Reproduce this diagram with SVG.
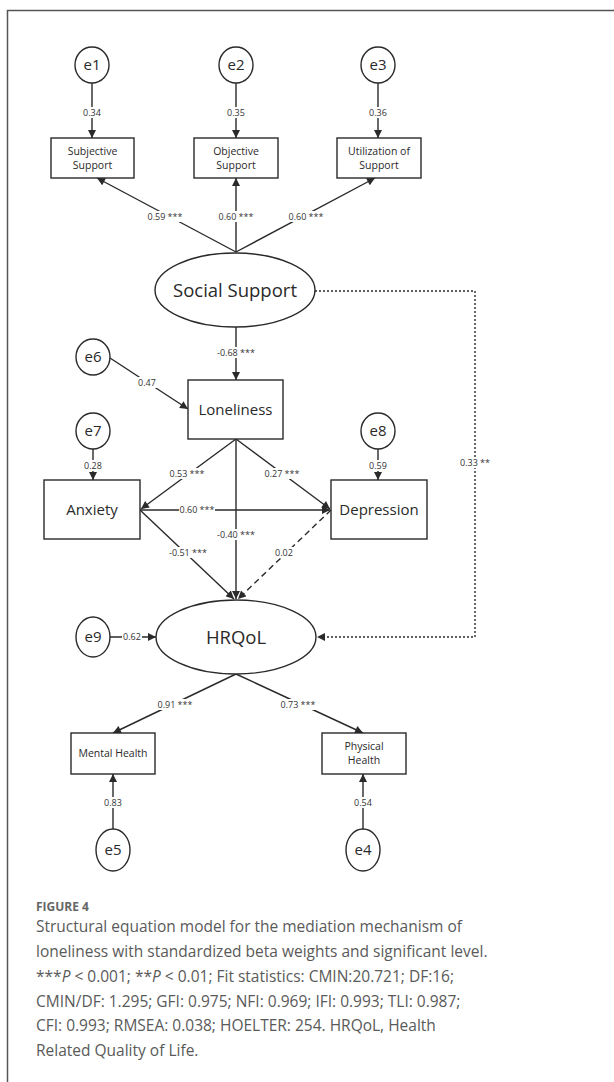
<svg xmlns="http://www.w3.org/2000/svg" width="614" height="1082" viewBox="0 0 614 1082">
<style>
.n{fill:#fff;stroke:#2a2a2a;stroke-width:1.4}
.t{font-family:"Open Sans","Noto Sans",sans-serif;fill:#2a2a2a;text-anchor:middle}
.lbl{font-family:"Open Sans","Noto Sans",sans-serif;font-size:9px;fill:#333;text-anchor:middle}
.bg{fill:#fff}
.c{fill:none;stroke:#2a2a2a;stroke-width:1.4}
.cap{font-family:"Open Sans","Noto Sans",sans-serif;font-size:15.5px;fill:#5a5a5a}
</style>
<defs>
<marker id="ah" viewBox="0 0 10 10" refX="10" refY="5" markerWidth="9" markerHeight="8" markerUnits="userSpaceOnUse" orient="auto">
<path d="M0,0 L10,5 L0,10 z" fill="#2a2a2a"/>
</marker>
</defs>
<rect x="7.5" y="10.5" width="640" height="1100" fill="none" stroke="#555" stroke-width="1.5"/>

<g id="connectors">
<line class="c" x1="92" y1="83" x2="92" y2="138" marker-end="url(#ah)"/>
<line class="c" x1="236" y1="83" x2="236" y2="138" marker-end="url(#ah)"/>
<line class="c" x1="378" y1="83" x2="378" y2="138" marker-end="url(#ah)"/>
<line class="c" x1="236" y1="252" x2="97" y2="178" marker-end="url(#ah)"/>
<line class="c" x1="236" y1="252" x2="236" y2="178" marker-end="url(#ah)"/>
<line class="c" x1="236" y1="252" x2="375" y2="178" marker-end="url(#ah)"/>
<line class="c" x1="236" y1="327" x2="236" y2="380" marker-end="url(#ah)"/>
<line class="c" x1="110" y1="358" x2="188" y2="409" marker-end="url(#ah)"/>
<line class="c" x1="93" y1="449" x2="93" y2="480" marker-end="url(#ah)"/>
<line class="c" x1="378" y1="449" x2="378" y2="480" marker-end="url(#ah)"/>
<line class="c" x1="236" y1="439" x2="141" y2="509" marker-end="url(#ah)"/>
<line class="c" x1="236" y1="439" x2="330" y2="509" marker-end="url(#ah)"/>
<line class="c" x1="140" y1="510" x2="330" y2="510" marker-end="url(#ah)"/>
<line class="c" x1="236" y1="439" x2="236" y2="599" marker-end="url(#ah)"/>
<line class="c" x1="140" y1="510" x2="234" y2="599" marker-end="url(#ah)"/>
<line class="c" x1="331" y1="510" x2="238" y2="599" stroke-dasharray="6,4" marker-end="url(#ah)"/>
<polyline class="c" points="315,291 475,291 475,637 317,637" stroke-dasharray="2,2" marker-end="url(#ah)"/>
<line class="c" x1="110" y1="637" x2="156" y2="637" marker-end="url(#ah)"/>
<line class="c" x1="236" y1="674" x2="113" y2="733" marker-end="url(#ah)"/>
<line class="c" x1="236" y1="674" x2="363" y2="733" marker-end="url(#ah)"/>
<line class="c" x1="113" y1="829" x2="113" y2="774" marker-end="url(#ah)"/>
<line class="c" x1="363" y1="829" x2="363" y2="774" marker-end="url(#ah)"/>

<rect class="bg" x="82" y="107" width="20" height="11"/>
<rect class="bg" x="226" y="107" width="20" height="11"/>
<rect class="bg" x="368" y="107" width="20" height="11"/>
<rect class="bg" x="147" y="211" width="36" height="11"/>
<rect class="bg" x="218" y="211" width="36" height="11"/>
<rect class="bg" x="288" y="211" width="36" height="11"/>
<rect class="bg" x="217" y="347" width="38" height="11"/>
<rect class="bg" x="137" y="377" width="20" height="11"/>
<rect class="bg" x="83" y="460" width="20" height="11"/>
<rect class="bg" x="368" y="460" width="20" height="11"/>
<rect class="bg" x="169" y="468" width="36" height="11"/>
<rect class="bg" x="264" y="468" width="36" height="11"/>
<rect class="bg" x="179" y="504" width="36" height="11"/>
<rect class="bg" x="217" y="529" width="38" height="11"/>
<rect class="bg" x="169" y="547" width="38" height="11"/>
<rect class="bg" x="274" y="547" width="20" height="11"/>
<rect class="bg" x="458" y="457" width="34" height="11"/>
<rect class="bg" x="122" y="631" width="20" height="11"/>
<rect class="bg" x="157" y="699" width="36" height="11"/>
<rect class="bg" x="280" y="699" width="36" height="11"/>
<rect class="bg" x="103" y="797" width="20" height="11"/>
<rect class="bg" x="353" y="797" width="20" height="11"/>

<text class="lbl" x="92" y="116">0.34</text>
<text class="lbl" x="236" y="116">0.35</text>
<text class="lbl" x="378" y="116">0.36</text>
<text class="lbl" x="165" y="220">0.59 ***</text>
<text class="lbl" x="236" y="220">0.60 ***</text>
<text class="lbl" x="306" y="220">0.60 ***</text>
<text class="lbl" x="236" y="356">-0.68 ***</text>
<text class="lbl" x="147" y="386">0.47</text>
<text class="lbl" x="93" y="469">0.28</text>
<text class="lbl" x="378" y="469">0.59</text>
<text class="lbl" x="187" y="477">0.53 ***</text>
<text class="lbl" x="282" y="477">0.27 ***</text>
<text class="lbl" x="197" y="513">0.60 ***</text>
<text class="lbl" x="236" y="538">-0.40 ***</text>
<text class="lbl" x="188" y="556">-0.51 ***</text>
<text class="lbl" x="284" y="556">0.02</text>
<text class="lbl" x="475" y="466">0.33 **</text>
<text class="lbl" x="132" y="640">0.62</text>
<text class="lbl" x="175" y="708">0.91 ***</text>
<text class="lbl" x="298" y="708">0.73 ***</text>
<text class="lbl" x="113" y="806">0.83</text>
<text class="lbl" x="363" y="806">0.54</text>
</g>

<g id="e1"><ellipse class="n" cx="92" cy="65" rx="17" ry="18"/><text class="t" x="92" y="70" font-size="15">e1</text></g>
<g id="e2"><ellipse class="n" cx="236" cy="65" rx="17" ry="18"/><text class="t" x="236" y="70" font-size="15">e2</text></g>
<g id="e3"><ellipse class="n" cx="378" cy="65" rx="17" ry="18"/><text class="t" x="378" y="70" font-size="15">e3</text></g>

<g id="subjective"><rect class="n" x="51" y="138" width="83" height="40"/><text class="t" x="92.5" y="155" font-size="10.5">Subjective</text><text class="t" x="92.5" y="169" font-size="10.5">Support</text></g>
<g id="objective"><rect class="n" x="194" y="138" width="84" height="40"/><text class="t" x="236" y="155" font-size="10.5">Objective</text><text class="t" x="236" y="169" font-size="10.5">Support</text></g>
<g id="utilization"><rect class="n" x="337" y="138" width="84" height="40"/><text class="t" x="379" y="155" font-size="10.5">Utilization of</text><text class="t" x="379" y="169" font-size="10.5">Support</text></g>

<g id="social"><ellipse class="n" cx="235" cy="290" rx="80" ry="37"/><text class="t" x="235" y="297" font-size="18.5">Social Support</text></g>

<g id="e6"><ellipse class="n" cx="93" cy="357" rx="17" ry="18"/><text class="t" x="93" y="362" font-size="15">e6</text></g>
<g id="loneliness"><rect class="n" x="188" y="380" width="95" height="59"/><text class="t" x="235.5" y="415" font-size="15">Loneliness</text></g>

<g id="e7"><ellipse class="n" cx="93" cy="431" rx="17" ry="18"/><text class="t" x="93" y="436" font-size="15">e7</text></g>
<g id="e8"><ellipse class="n" cx="378" cy="431" rx="17" ry="18"/><text class="t" x="378" y="436" font-size="15">e8</text></g>
<g id="anxiety"><rect class="n" x="44" y="480" width="96" height="59"/><text class="t" x="92" y="515" font-size="15">Anxiety</text></g>
<g id="depression"><rect class="n" x="331" y="480" width="96" height="59"/><text class="t" x="379" y="515" font-size="15">Depression</text></g>

<g id="e9"><ellipse class="n" cx="93" cy="637" rx="17" ry="20"/><text class="t" x="93" y="642" font-size="15">e9</text></g>
<g id="hrqol"><ellipse class="n" cx="236" cy="637" rx="80" ry="37"/><text class="t" x="236" y="644" font-size="18.5">HRQoL</text></g>

<g id="mental"><rect class="n" x="71" y="733" width="84" height="41"/><text class="t" x="113" y="757" font-size="10.5">Mental Health</text></g>
<g id="physical"><rect class="n" x="322" y="733" width="84" height="41"/><text class="t" x="364" y="750" font-size="10.5">Physical</text><text class="t" x="364" y="764" font-size="10.5">Health</text></g>

<g id="e5"><ellipse class="n" cx="113" cy="850" rx="17" ry="21"/><text class="t" x="113" y="855" font-size="15">e5</text></g>
<g id="e4"><ellipse class="n" cx="363" cy="850" rx="17" ry="21"/><text class="t" x="363" y="855" font-size="15">e4</text></g>

<g id="caption">
<text x="36" y="911" font-family="'Open Sans','Noto Sans',sans-serif" font-size="12" font-weight="bold" fill="#666">FIGURE 4</text>
<text class="cap" x="36" y="932">Structural equation model for the mediation mechanism of</text>
<text class="cap" x="36" y="957">loneliness with standardized beta weights and significant level.</text>
<text class="cap" x="36" y="982">***<tspan font-style="italic">P</tspan> &lt; 0.001; **<tspan font-style="italic">P</tspan> &lt; 0.01; Fit statistics: CMIN:20.721; DF:16;</text>
<text class="cap" x="36" y="1007">CMIN/DF: 1.295; GFI: 0.975; NFI: 0.969; IFI: 0.993; TLI: 0.987;</text>
<text class="cap" x="36" y="1031">CFI: 0.993; RMSEA: 0.038; HOELTER: 254. HRQoL, Health</text>
<text class="cap" x="36" y="1056">Related Quality of Life.</text>
</g>
</svg>
